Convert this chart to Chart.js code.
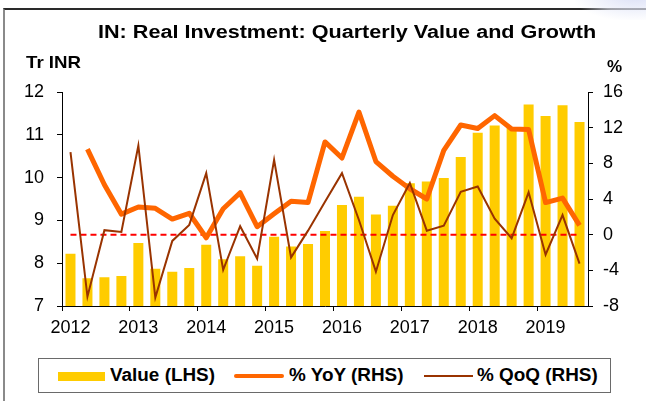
<!DOCTYPE html>
<html>
<head>
<meta charset="utf-8">
<script src="https://cdn.jsdelivr.net/npm/chart.js@4/dist/chart.umd.min.js"></script>
<style>
  html, body { margin: 0; padding: 0; background: #fff; }
  body { width: 646px; height: 401px; position: relative; overflow: hidden;
         font-family: 'Liberation Sans', Arial, sans-serif; }
  #frame { position: absolute; left: 3px; top: 8px; width: 700px; height: 500px;
           border-left: 2px solid #8a8a8a; border-top: 2px solid #2a2a2a; box-sizing: border-box; }
  #glow { position: absolute; left: 575px; top: -30px; width: 120px; height: 50px;
          background: radial-gradient(ellipse at center, rgba(215,220,245,0.9) 0%, rgba(235,238,250,0.6) 50%, rgba(255,255,255,0) 75%); }
  canvas { position: absolute; left: 0; top: 0; }
  .txt { position: absolute; white-space: nowrap; font-weight: bold; color: #000; line-height: 1; }
  #title { left: 98px; top: 23px; width: 416px; font-size: 18px; transform: scaleX(1.2); transform-origin: left top; }
  #lunit { left: 26px; top: 54px; font-size: 17px; transform: scaleX(1.1); transform-origin: left top; }
  #runit { left: 607px; top: 58px; font-size: 17px; }
  #legend { position: absolute; left: 38px; top: 358px; width: 573px; height: 35px;
            border: 1.5px solid #6a6a6a; box-sizing: border-box; background: #fff; }
  .sw { position: absolute; }
  .lt { position: absolute; white-space: nowrap; font-weight: bold; font-size: 18px; line-height: 1; transform: scaleX(1.05); transform-origin: left top; }
</style>
</head>
<body>
<div id="frame"></div>
<div id="glow"></div>
<canvas id="c" width="646" height="401"></canvas>
<div class="txt" id="title">IN: Real Investment: Quarterly Value and Growth</div>
<div class="txt" id="lunit">Tr INR</div>
<div class="txt" id="runit">%</div>
<div id="legend"></div>
<div class="sw" style="left:58px;top:372px;width:47px;height:9px;background:#FFCC00;"></div>
<div class="lt" style="left:110px;top:366px;">Value (LHS)</div>
<div class="sw" style="left:234px;top:374px;width:50px;height:4px;background:#FF6600;border-radius:2px;"></div>
<div class="lt" style="left:289px;top:366px;">% YoY (RHS)</div>
<div class="sw" style="left:424px;top:375px;width:49px;height:2px;background:#993300;"></div>
<div class="lt" style="left:477px;top:366px;">% QoQ (RHS)</div>
<script>
// ---- data ----
const quarters = [
  '2012Q1','2012Q2','2012Q3','2012Q4',
  '2013Q1','2013Q2','2013Q3','2013Q4',
  '2014Q1','2014Q2','2014Q3','2014Q4',
  '2015Q1','2015Q2','2015Q3','2015Q4',
  '2016Q1','2016Q2','2016Q3','2016Q4',
  '2017Q1','2017Q2','2017Q3','2017Q4',
  '2018Q1','2018Q2','2018Q3','2018Q4',
  '2019Q1','2019Q2','2019Q3'
];
const valueLHS = [8.22, 7.65, 7.67, 7.70, 8.47, 7.87, 7.80, 7.89, 8.43, 8.09, 8.16, 7.94,
                  8.62, 8.39, 8.45, 8.75, 9.36, 9.55, 9.14, 9.34, 9.87, 9.91, 9.99, 10.48,
                  11.05, 11.22, 11.16, 11.71, 11.44, 11.69, 11.30];
const yoyRHS = [null, 9.6, 5.6, 2.3, 3.1, 2.95, 1.75, 2.4, -0.35, 2.9, 4.7, 0.9,
                2.35, 3.75, 3.6, 10.4, 8.6, 13.75, 8.2, 6.55, 5.15, 4.0, 9.45, 12.3,
                11.9, 13.35, 11.85, 11.8, 3.6, 4.1, 1.05];
const qoqRHS = [9.25, -6.95, 0.5, 0.3, 10.0, -7.05, -0.7, 1.1, 6.9, -3.95, 0.95, -2.7,
                8.4, -2.55, 0.45, 3.7, 6.9, 1.65, -4.15, 2.2, 5.8, 0.45, 1.0, 4.8,
                5.4, 1.8, -0.4, 4.75, -2.25, 2.2, -3.25];
const zeroRHS = quarters.map(() => 0);
const leftTicks = [7, 8, 9, 10, 11, 12];
const rightTicks = [-8, -4, 0, 4, 8, 12, 16];
const yearLabels = ['2012','2013','2014','2015','2016','2017','2018','2019'];

Chart.defaults.font.family = "'Liberation Sans', Arial, sans-serif";
Chart.defaults.color = '#000';

const tickFont = { size: 18 };

new Chart(document.getElementById('c'), {
  data: {
    labels: quarters,
    datasets: [
      { type: 'line', label: '% QoQ (RHS)', data: qoqRHS, yAxisID: 'y2', borderColor: '#993300',
        borderWidth: 2, pointRadius: 0, tension: 0, order: 0 },
      { type: 'line', label: '% YoY (RHS)', data: yoyRHS, yAxisID: 'y2', borderColor: '#FF6600',
        borderWidth: 5, pointRadius: 0, tension: 0, borderJoinStyle: 'round', order: 1 },
      { type: 'line', label: 'zero', data: zeroRHS, yAxisID: 'y2', borderColor: '#FF0000',
        borderWidth: 2, borderDash: [6, 4], pointRadius: 0, order: 2 },
      { type: 'bar', label: 'Value (LHS)', data: valueLHS, yAxisID: 'y', backgroundColor: '#FFCC00',
        barPercentage: 0.59, categoryPercentage: 1.0, order: 3 }
    ]
  },
  options: {
    responsive: false,
    animation: false,
    layout: { padding: { top: 92, left: 0, right: 0, bottom: 0 } },
    plugins: { legend: { display: false }, tooltip: { enabled: false }, title: { display: false } },
    scales: {
      x: {
        type: 'category', offset: true,
        grid: { offset: true, drawOnChartArea: false, drawTicks: true, tickLength: 5,
                tickColor: (ctx) => (ctx.index % 4 === 0 ? '#000' : 'rgba(0,0,0,0)') },
        border: { color: '#000', width: 1 },
        ticks: { autoSkip: false, maxRotation: 0, minRotation: 0, font: tickFont, padding: 6,
                 callback: (v, i) => (i % 4 === 0 ? yearLabels[i / 4] : '') },
        afterFit: (s) => { s.height = 95; }
      },
      y: {
        type: 'linear', position: 'left', min: leftTicks[0], max: leftTicks[leftTicks.length - 1],
        afterBuildTicks: (s) => { s.ticks = leftTicks.map(v => ({ value: v })); },
        grid: { drawOnChartArea: false, drawTicks: true, tickLength: 5, tickColor: '#000' },
        border: { color: '#000', width: 1 },
        ticks: { font: tickFont, padding: 13 },
        afterFit: (s) => { s.width = 62; }
      },
      y2: {
        type: 'linear', position: 'right', min: rightTicks[0], max: rightTicks[rightTicks.length - 1],
        afterBuildTicks: (s) => { s.ticks = rightTicks.map(v => ({ value: v })); },
        grid: { drawOnChartArea: false, drawTicks: true, tickLength: 5, tickColor: '#000' },
        border: { color: '#000', width: 1 },
        ticks: { font: tickFont, padding: 10 },
        afterFit: (s) => { s.width = 58; }
      }
    }
  }
});
</script>
</body>
</html>
